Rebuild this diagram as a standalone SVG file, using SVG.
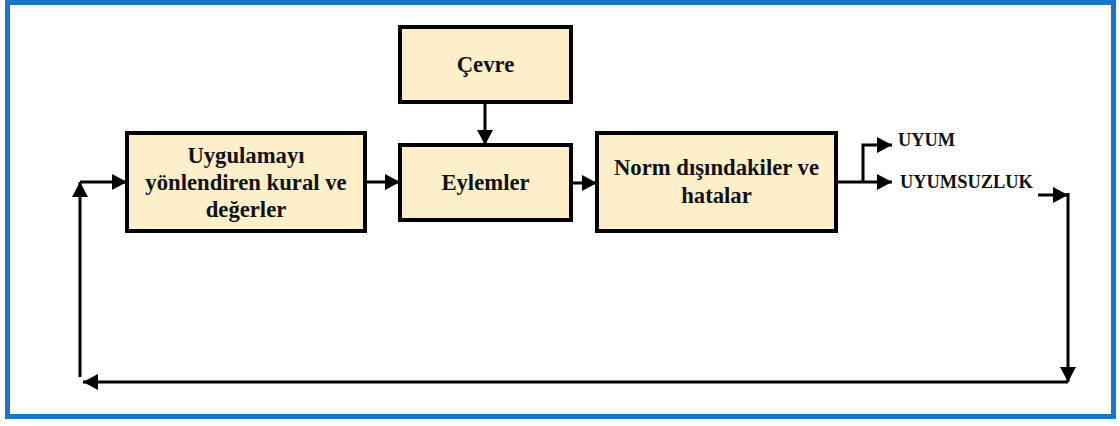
<svg xmlns="http://www.w3.org/2000/svg" width="1120" height="426" viewBox="0 0 1120 426">
<style>
.frame{fill:#ffffff;stroke:#1b75c6;stroke-width:5}
.box{fill:#fcefc9;stroke:#000;stroke-width:4}
.t{font-family:"Liberation Serif","Times New Roman",serif;font-weight:bold;font-size:22.7px;fill:#111;text-anchor:middle}
.lbl{font-family:"Liberation Serif","Times New Roman",serif;font-weight:bold;font-size:18.4px;fill:#111}
.c{fill:none;stroke:#000;stroke-width:3;marker-end:url(#ah)}
</style>
<defs>
<marker id="ah" markerUnits="userSpaceOnUse" markerWidth="16" markerHeight="16" refX="15" refY="8" orient="auto">
<path d="M0,0 L15,8 L0,16 z" fill="#000"/>
</marker>
</defs>
<rect class="frame" x="7.5" y="2.5" width="1106" height="414"/>
<g id="node-kural">
<rect class="box" x="127" y="133" width="238" height="98"/>
<text class="t" x="246" y="163">Uygulamayı</text>
<text class="t" x="246" y="190">yönlendiren kural ve</text>
<text class="t" x="246" y="217">değerler</text>
</g>
<g id="node-cevre">
<rect class="box" x="400" y="27" width="171" height="75"/>
<text class="t" x="485.5" y="72">Çevre</text>
</g>
<g id="node-eylemler">
<rect class="box" x="400" y="145" width="171" height="75"/>
<text class="t" x="485.5" y="190">Eylemler</text>
</g>
<g id="node-norm">
<rect class="box" x="597" y="133" width="239" height="98"/>
<text class="t" x="716.5" y="175">Norm dışındakiler ve</text>
<text class="t" x="716.5" y="203">hatalar</text>
</g>
<g id="labels">
<text class="lbl" x="898" y="146">UYUM</text>
<text class="lbl" x="900" y="188">UYUMSUZLUK</text>
</g>
<g id="connectors">
<path class="c" d="M80,377 V182"/>
<path class="c" d="M80,182 H127"/>
<path class="c" d="M365,182 H400"/>
<path class="c" d="M485,102 V145"/>
<path class="c" d="M571,183 H597"/>
<path class="c" d="M836,182 H892"/>
<path class="c" d="M863,182 V145 H892"/>
<path class="c" d="M1038,195 H1068"/>
<path class="c" d="M1068,193 V382"/>
<path class="c" d="M1068,382 H83"/>
</g>
</svg>
